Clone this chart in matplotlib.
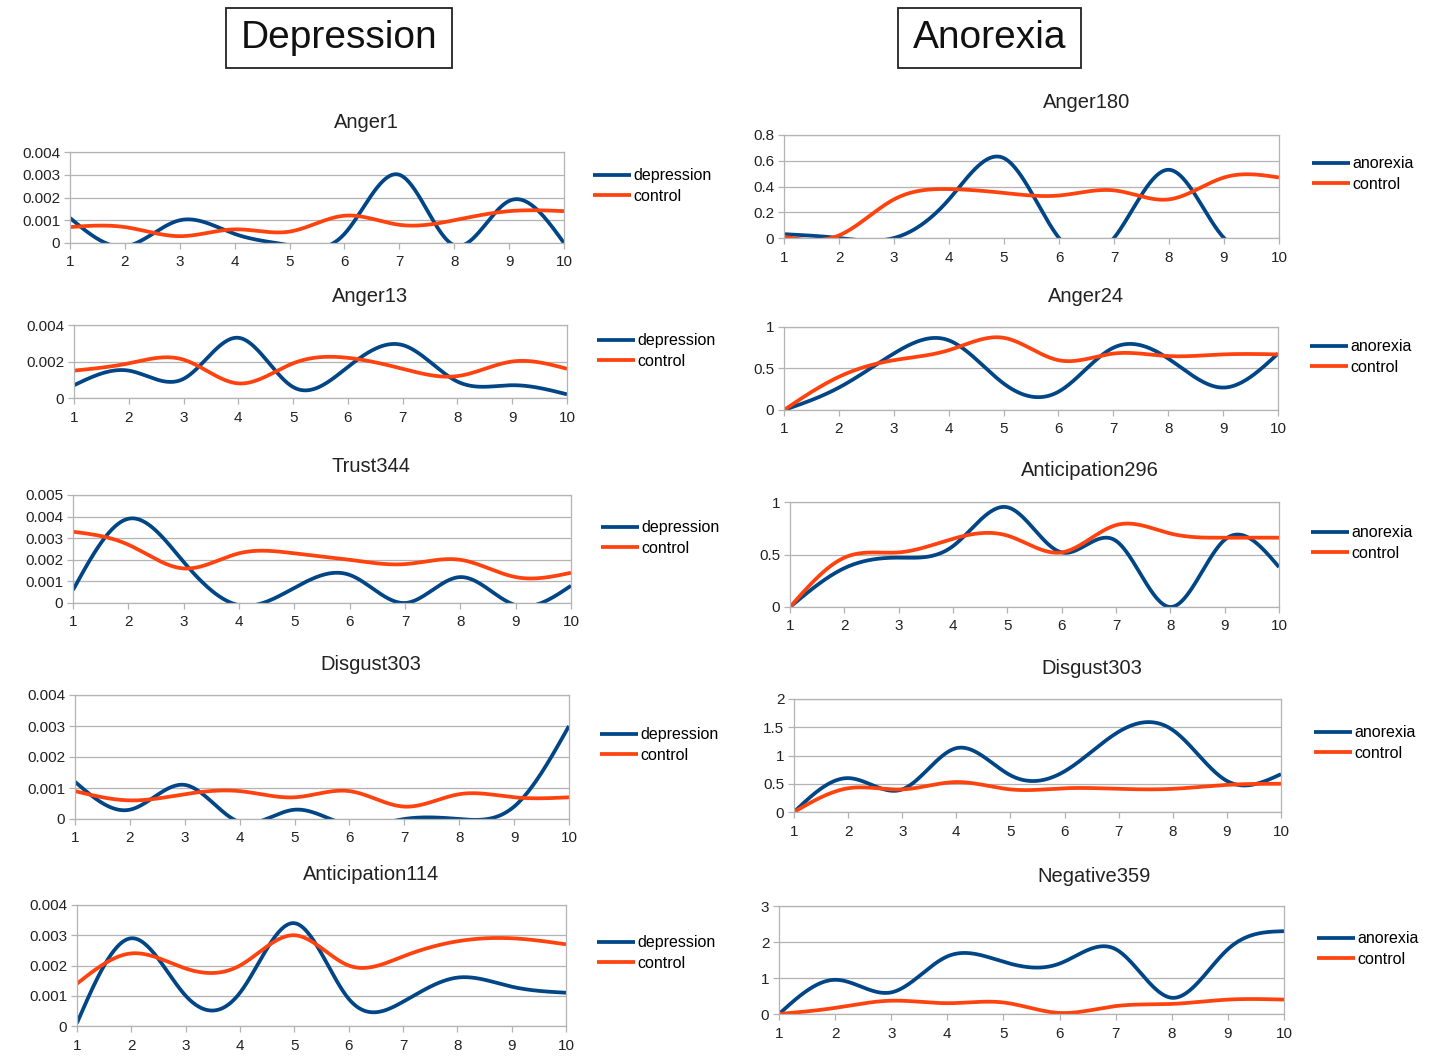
import numpy as np
import matplotlib
matplotlib.use('Agg')
import matplotlib.pyplot as plt
from matplotlib.patches import Rectangle

plt.rcParams['font.family'] = ['Liberation Sans', 'DejaVu Sans']

W, H = 1437, 1056
BLUE = '#004586'
ORANGE = '#ff420e'
GRID = '#b3b3b3'

weeks = [1, 2, 3, 4, 5, 6, 7, 8, 9, 10]

# depression column
anger1_dep = [0.0011, -0.00015, 0.001, 0.0004, -0.0001, 0.0004, 0.003, -0.0001, 0.00185, 0.0]
anger1_ctl = [0.0007, 0.0007, 0.0003, 0.0006, 0.0005, 0.0012, 0.0008, 0.001, 0.0014, 0.0014]
anger13_dep = [0.0007, 0.0015, 0.00105, 0.0033, 0.0006, 0.0017, 0.0029, 0.0009, 0.0007, 0.0002]
anger13_ctl = [0.0015, 0.0019, 0.0021, 0.0008, 0.0019, 0.0022, 0.0016, 0.0012, 0.002, 0.0016]
trust344_dep = [0.0006, 0.0039, 0.0019, -0.0001, 0.0007, 0.0013, 0.0, 0.0012, -0.0001, 0.0008]
trust344_ctl = [0.0033, 0.0027, 0.0016, 0.0023, 0.0023, 0.002, 0.0018, 0.002, 0.0012, 0.0014]
disgust303_dep = [0.0012, 0.0003, 0.0011, -0.0001, 0.0003, -0.0002, 0.0, 0.0, 0.0004, 0.003]
disgust303_dctl = [0.0009, 0.0006, 0.0008, 0.0009, 0.0007, 0.0009, 0.0004, 0.0008, 0.0007, 0.0007]
antic114_dep = [0.0001, 0.0029, 0.001, 0.0011, 0.0034, 0.0009, 0.0008, 0.0016, 0.0013, 0.0011]
antic114_ctl = [0.0014, 0.0024, 0.0019, 0.002, 0.003, 0.002, 0.0023, 0.0028, 0.0029, 0.0027]

# anorexia column
anger180_ano = [0.03, 0.0, 0.0, 0.3, 0.62, 0.0, 0.0, 0.53, 0.0, -0.02]
anger180_ctl = [0.01, 0.02, 0.3, 0.38, 0.35, 0.33, 0.37, 0.3, 0.47, 0.47]
anger24_ano = [0.0, 0.27, 0.68, 0.84, 0.32, 0.22, 0.75, 0.62, 0.27, 0.68]
anger24_ctl = [0.0, 0.4, 0.6, 0.72, 0.87, 0.6, 0.68, 0.65, 0.67, 0.67]
antic296_ano = [0.0, 0.37, 0.47, 0.58, 0.95, 0.52, 0.63, 0.0, 0.64, 0.38]
antic296_ctl = [0.0, 0.47, 0.52, 0.65, 0.68, 0.52, 0.78, 0.7, 0.66, 0.66]
disgust303_ano = [0.0, 0.6, 0.4, 1.13, 0.65, 0.72, 1.42, 1.45, 0.55, 0.67]
disgust303_actl = [0.0, 0.42, 0.4, 0.53, 0.4, 0.42, 0.41, 0.41, 0.48, 0.5]
neg359_ano = [0.0, 0.95, 0.6, 1.6, 1.45, 1.4, 1.8, 0.45, 1.8, 2.3]
neg359_ctl = [0.0, 0.17, 0.37, 0.3, 0.32, 0.03, 0.22, 0.28, 0.4, 0.4]

ticks_dep4 = [0, 0.001, 0.002, 0.003, 0.004]
ticks_dep2 = [0, 0.002, 0.004]
ticks_dep5 = [0, 0.001, 0.002, 0.003, 0.004, 0.005]
ticks_a180 = [0, 0.2, 0.4, 0.6, 0.8]
ticks_half = [0, 0.5, 1]
ticks_d303 = [0, 0.5, 1, 1.5, 2]
ticks_n359 = [0, 1, 2, 3]

# (title, series, labels, yticks, plot box px: x1, x10, y0, ytop, title xy, legend xy)
panels = [
    ('Anger1', anger1_dep, anger1_ctl, 'depression', ticks_dep4, (70, 564, 243, 152), (366, 122), (593, 186)),
    ('Anger13', anger13_dep, anger13_ctl, 'depression', ticks_dep2, (74, 567, 398, 325), (370, 297), (597, 351)),
    ('Trust344', trust344_dep, trust344_ctl, 'depression', ticks_dep5, (73, 571, 603, 495), (371, 466), (601, 538)),
    ('Disgust303', disgust303_dep, disgust303_dctl, 'depression', ticks_dep4, (75, 569, 819, 695), (371, 665), (600, 745)),
    ('Anticipation114', antic114_dep, antic114_ctl, 'depression', ticks_dep4, (77, 566, 1026, 905), (371, 875), (597, 953)),
    ('Anger180', anger180_ano, anger180_ctl, 'anorexia', ticks_a180, (784, 1279, 238, 135), (1087, 103), (1312, 174)),
    ('Anger24', anger24_ano, anger24_ctl, 'anorexia', ticks_half, (784, 1278, 410, 327), (1086, 297), (1310, 357)),
    ('Anticipation296', antic296_ano, antic296_ctl, 'anorexia', ticks_half, (790, 1279, 607, 502), (1090, 471), (1311, 543)),
    ('Disgust303', disgust303_ano, disgust303_actl, 'anorexia', ticks_d303, (794, 1281, 812, 699), (1092, 668), (1314, 743)),
    ('Negative359', neg359_ano, neg359_ctl, 'anorexia', ticks_n359, (779, 1284, 1014, 906), (1094, 876), (1317, 949)),
]


def natural_spline(x, y, n=500):
    x = np.asarray(x, float)
    y = np.asarray(y, float)
    k = len(x)
    h = np.diff(x)
    A = np.zeros((k, k))
    b = np.zeros(k)
    A[0, 0] = A[-1, -1] = 1
    for i in range(1, k - 1):
        A[i, i - 1] = h[i - 1]
        A[i, i] = 2 * (h[i - 1] + h[i])
        A[i, i + 1] = h[i]
        b[i] = 6 * ((y[i + 1] - y[i]) / h[i] - (y[i] - y[i - 1]) / h[i - 1])
    M = np.linalg.solve(A, b)
    xs = np.linspace(x[0], x[-1], n)
    idx = np.clip(np.searchsorted(x, xs) - 1, 0, k - 2)
    x0, x1 = x[idx], x[idx + 1]
    hh = x1 - x0
    t0, t1 = x1 - xs, xs - x0
    ys = (M[idx] * t0 ** 3 + M[idx + 1] * t1 ** 3) / (6 * hh) \
        + (y[idx] / hh - M[idx] * hh / 6) * t0 \
        + (y[idx + 1] / hh - M[idx + 1] * hh / 6) * t1
    return xs, ys


fig = plt.figure(figsize=(W / 100, H / 100), dpi=100)

for title, group, control, group_name, yticks, box, tpos, lpos in panels:
    px1, px10, py0, pytop = box
    ax = fig.add_axes([px1 / W, 1 - py0 / H, (px10 - px1) / W, (py0 - pytop) / H])
    xs, ys = natural_spline(weeks, group)
    ax.plot(xs, ys, color=BLUE, lw=2.7, label=group_name, solid_capstyle='butt')
    xs, ys = natural_spline(weeks, control)
    ax.plot(xs, ys, color=ORANGE, lw=2.7, label='control', solid_capstyle='butt')
    ax.set_xlim(1, 10)
    ax.set_ylim(0, yticks[-1])
    ax.set_xticks(weeks)
    ax.set_yticks(yticks)
    ax.set_yticklabels([f'{v:g}' for v in yticks])
    ax.grid(axis='y', color=GRID, lw=0.9)
    ax.set_axisbelow(True)
    for sp in ax.spines.values():
        sp.set_color(GRID)
        sp.set_linewidth(0.9)
    ax.tick_params(length=4, width=0.9, color=GRID, labelsize=11,
                   labelcolor='#222222')
    ax.tick_params(axis='x', pad=5)
    ax.tick_params(axis='y', pad=3)
    fig.text(tpos[0] / W, 1 - tpos[1] / H, title, ha='center', va='center',
             fontsize=14.5, color='#222222')
    ax.legend(loc='center left', bbox_to_anchor=(lpos[0] / W, 1 - lpos[1] / H),
              bbox_transform=fig.transFigure, frameon=False, fontsize=11.5,
              handlelength=2.4, handletextpad=0.15, labelspacing=0.35,
              borderpad=0, borderaxespad=0)

# column headers
for label, (bx0, bx1) in [('Depression', (226, 452)), ('Anorexia', (898, 1081))]:
    fig.patches.append(Rectangle((bx0 / W, 1 - 68 / H), (bx1 - bx0) / W, 60 / H,
                                 transform=fig.transFigure, fill=False,
                                 edgecolor='#222222', lw=1.3))
    fig.text((bx0 + bx1) / 2 / W, 1 - 38 / H, label, ha='center', va='center',
             fontsize=28, color='#111111')

fig.savefig('out.png', dpi=100, facecolor='white')
